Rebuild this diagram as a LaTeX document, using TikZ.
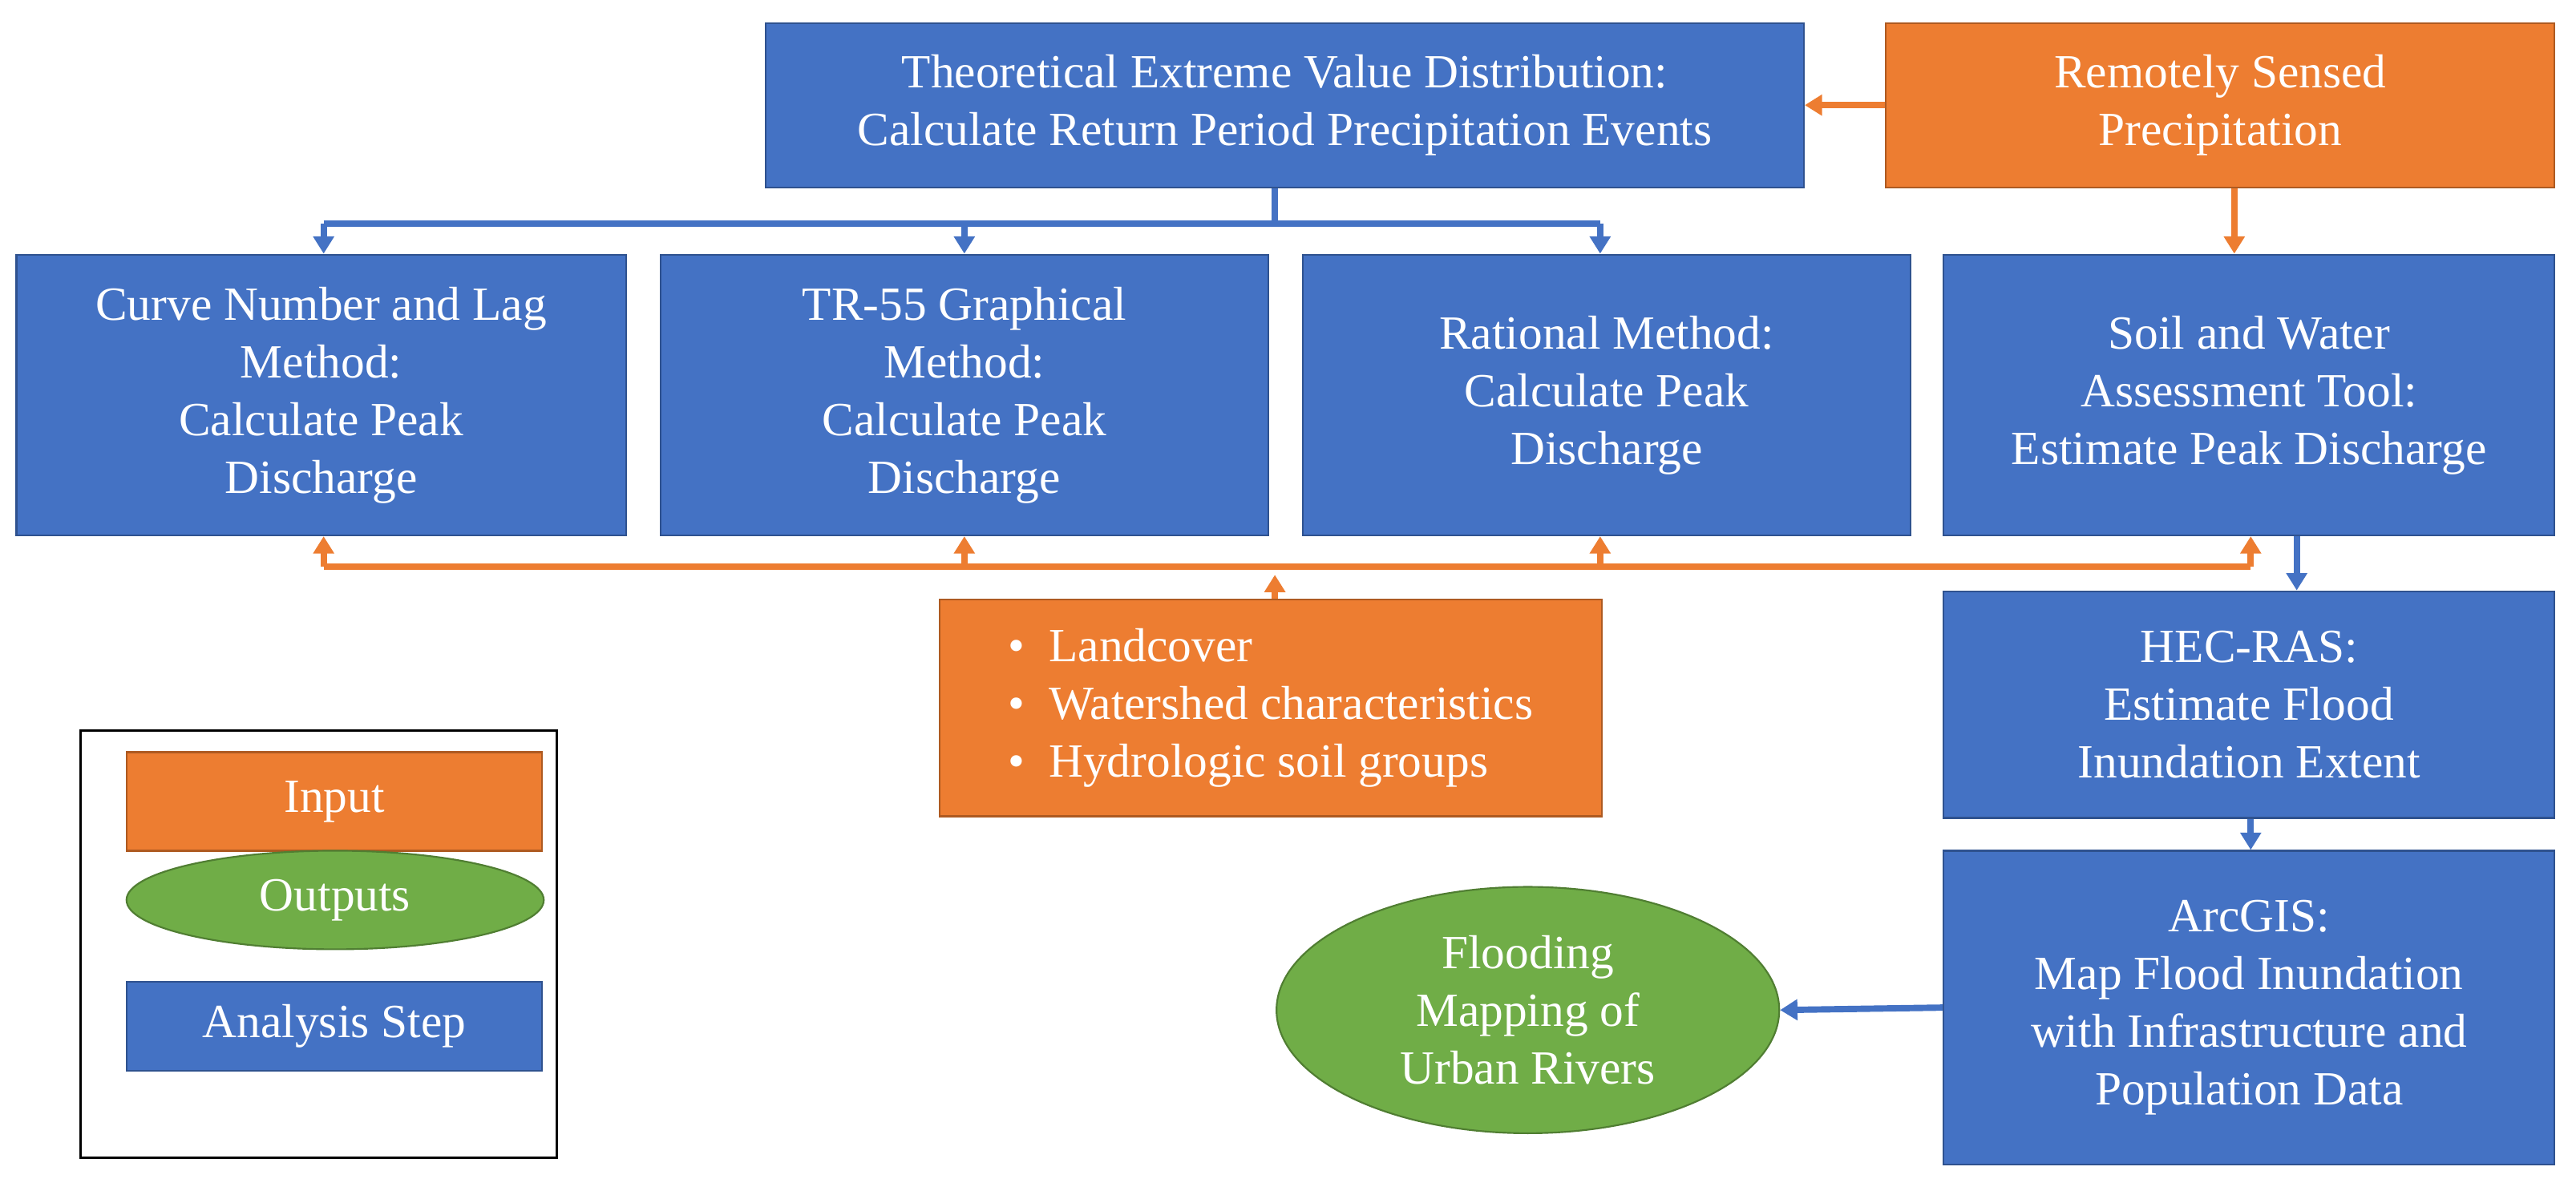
\documentclass[tikz,border=0pt]{standalone}
\usepackage{fontspec}
\setmainfont{Liberation Serif}
\usetikzlibrary{shapes.geometric,arrows.meta}
\definecolor{bl}{HTML}{4472C4}
\definecolor{bld}{HTML}{2F528F}
\definecolor{orf}{HTML}{ED7D31}
\definecolor{ord}{HTML}{AE5A21}
\definecolor{gr}{HTML}{70AD47}
\definecolor{grd}{HTML}{507E32}
\begin{document}
\begin{tikzpicture}[x=0.02cm,y=-0.02cm,
 font=\fontsize{16.5}{20}\selectfont,
 box/.style={draw=bld,fill=bl,text=white,align=center,inner sep=0pt,line width=0.6pt},
 ibox/.style={draw=ord,fill=orf,text=white,align=center,inner sep=0pt,line width=0.6pt},
 ell/.style={ellipse,draw=grd,fill=gr,text=white,align=center,inner sep=0pt,line width=0.6pt},
 ba/.style={draw=bl,line width=2.2pt,-{Triangle[length=6pt,width=7pt]}},
 bl/.style={draw=bl,line width=2.2pt},
 oa/.style={draw=orf,line width=2.2pt,-{Triangle[length=6pt,width=7pt]}},
 ol/.style={draw=orf,line width=2.2pt}]
\useasboundingbox (0,0) rectangle (1568,725);
\node[box,minimum width=632*0.02cm,minimum height=100*0.02cm] (theo) at (782,64) {Theoretical Extreme Value Distribution:\\Calculate Return Period Precipitation Events};
\node[ibox,minimum width=407*0.02cm,minimum height=100*0.02cm] (rem) at (1351.5,64) {Remotely Sensed\\Precipitation};
\node[box,minimum width=371*0.02cm,minimum height=171*0.02cm] (b1) at (195.5,240.5) {Curve Number and Lag\\Method:\\Calculate Peak\\Discharge};
\node[box,minimum width=370*0.02cm,minimum height=171*0.02cm] (b2) at (587,240.5) {TR-55 Graphical\\Method:\\Calculate Peak\\Discharge};
\node[box,minimum width=370*0.02cm,minimum height=171*0.02cm] (b3) at (978,240.5) {Rational Method:\\Calculate Peak\\Discharge};
\node[box,minimum width=372*0.02cm,minimum height=171*0.02cm] (b4) at (1369,240.5) {Soil and Water\\Assessment Tool:\\Estimate Peak Discharge};
\node[ibox,minimum width=403*0.02cm,minimum height=132*0.02cm,align=left] (inp) at (773.5,431) {%
\begin{tabular}{@{}l@{\ \ }l@{}}\textbullet&Landcover\\\textbullet&Watershed characteristics\\\textbullet&Hydrologic soil groups\end{tabular}};
\node[box,minimum width=372*0.02cm,minimum height=138*0.02cm] (hec) at (1369,429) {HEC-RAS:\\Estimate Flood\\Inundation Extent};
\node[box,minimum width=372*0.02cm,minimum height=191*0.02cm] (arc) at (1369,613.5) {ArcGIS:\\Map Flood Inundation\\with Infrastructure and\\Population Data};
\node[ell,minimum width=306*0.02cm,minimum height=150*0.02cm] (out) at (930,615) {Flooding\\Mapping of\\Urban Rivers};
\node[draw=black,line width=0.8pt,minimum width=290*0.02cm,minimum height=260*0.02cm] (leg) at (194,575) {};
\node[ibox,minimum width=253*0.02cm,minimum height=60*0.02cm] (li) at (203.5,488) {Input};
\node[ell,minimum width=254*0.02cm,minimum height=60*0.02cm] (lo) at (204,548) {Outputs};
\node[box,minimum width=253*0.02cm,minimum height=54*0.02cm] (la) at (203.5,625) {Analysis Step};
% connectors
\coordinate (bt) at (776,136);
\draw[bl] (theo.south -| bt) -- (bt);
\draw[bl] (197,136) -- (974,136);
\draw[ba] (197,136) -- (b1.north -| 197,0);
\draw[ba] (587,136) -- (b2.north);
\draw[ba] (974,136) -- (b3.north -| 974,0);
\draw[oa] (rem.west) -- (theo.east);
\draw[oa] (rem.south -| 1360,0) -- (b4.north -| 1360,0);
\coordinate (ol) at (776,345);
\draw[ol] (197,345) -- (1370,345);
\draw[oa] (197,345) -- (b1.south -| 197,0);
\draw[oa] (587,345) -- (b2.south);
\draw[oa] (974,345) -- (b3.south -| 974,0);
\draw[oa] (1370,345) -- (b4.south -| 1370,0);
\draw[oa] (inp.north -| ol) -- (776,350);
\draw[ba] (b4.south -| 1398,0) -- (hec.north -| 1398,0);
\draw[ba] (hec.south -| 1370,0) -- (arc.north -| 1370,0);
\draw[ba] (arc.west) -- (out.east);
\end{tikzpicture}
\end{document}
